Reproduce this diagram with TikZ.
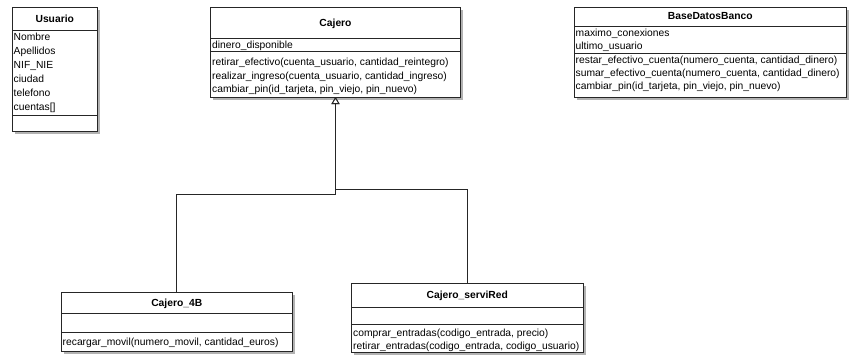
\documentclass[tikz,border=0pt]{standalone}
\usepackage{fontspec}
\setmainfont{Liberation Sans}
\usetikzlibrary{arrows.meta}

% class box: shadow plus framed rectangle, named #1, corners (#2,#3)-(#4,#5)
\newcommand{\classrect}[5]{%
  \fill[shadowgray] (#2+2.5,#3+2.5) rectangle (#4+2.5,#5+2.5);
  \node[classbox, minimum width=#4-#2, minimum height=#5-#3] (#1) at (#2,#3) {};
}

\begin{document}
\begin{tikzpicture}[x=1pt, y=-1pt,
  classbox/.style={draw=black!85, line width=0.8pt, fill=white, inner sep=0pt,
                   outer sep=0pt, anchor=north west},
  sep/.style={draw=black!85, line width=0.8pt},
  title/.style={font=\fontsize{10.3}{12}\selectfont\bfseries, inner sep=0pt, anchor=base},
  member/.style={font=\fontsize{10.3}{12}\selectfont, inner sep=0pt, anchor=base west},
  gen/.style={draw=black!85, line width=0.8pt, -{Triangle[open, length=7pt, width=8pt]}},
  shadowgray/.style={fill=black!30}
]
\useasboundingbox (0,0) rectangle (852,354);

% Usuario
\classrect{usuario}{12}{7}{97.5}{131}
\draw[sep] (12,30) -- (97.5,30);
\draw[sep] (12,115) -- (97.5,115);
\node[title] (usuarioT) at (54.75,22.2) {Usuario};
\node[member] (u1) at (13.5,40) {Nombre};
\node[member] (u2) at (13.5,54) {Apellidos};
\node[member] (u3) at (13.5,68) {NIF\_NIE};
\node[member] (u4) at (13.5,82) {ciudad};
\node[member] (u5) at (13.5,96) {telefono};
\node[member] (u6) at (13.5,110) {cuentas[]};

% Cajero
\classrect{cajero}{210.5}{7}{460.5}{97}
\draw[sep] (210.5,38) -- (460.5,38);
\draw[sep] (210.5,51) -- (460.5,51);
\node[title] (cajeroT) at (335.5,26) {Cajero};
\node[member] (c1) at (212,48) {dinero\_disponible};
\node[member] (c2) at (212,65.5) {retirar\_efectivo(cuenta\_usuario, cantidad\_reintegro)};
\node[member] (c3) at (212,79) {realizar\_ingreso(cuenta\_usuario, cantidad\_ingreso)};
\node[member] (c4) at (212,92.5) {cambiar\_pin(id\_tarjeta, pin\_viejo, pin\_nuevo)};

% BaseDatosBanco
\classrect{bd}{574}{7}{846.5}{97}
\draw[sep] (574,26) -- (846.5,26);
\draw[sep] (574,53) -- (846.5,53);
\node[title] (bdT) at (710.25,19.7) {BaseDatosBanco};
\node[member] (b1) at (575.5,36.8) {maximo\_conexiones};
\node[member] (b2) at (575.5,49.5) {ultimo\_usuario};
\node[member] (b3) at (575.5,63.5) {restar\_efectivo\_cuenta(numero\_cuenta, cantidad\_dinero)};
\node[member] (b4) at (575.5,76.5) {sumar\_efectivo\_cuenta(numero\_cuenta, cantidad\_dinero)};
\node[member] (b5) at (575.5,89) {cambiar\_pin(id\_tarjeta, pin\_viejo, pin\_nuevo)};

% Cajero_4B
\classrect{c4b}{61}{292}{292.5}{351}
\draw[sep] (61,313) -- (292.5,313);
\draw[sep] (61,332) -- (292.5,332);
\node[title] (c4bT) at (176.75,306) {Cajero\_4B};
\node[member] (k1) at (62.5,345) {recargar\_movil(numero\_movil, cantidad\_euros)};

% Cajero_serviRed
\classrect{csr}{351.5}{283}{583}{352}
\draw[sep] (351.5,307) -- (583,307);
\draw[sep] (351.5,324) -- (583,324);
\node[title] (csrT) at (467.25,298) {Cajero\_serviRed};
\node[member] (s1) at (353,336) {comprar\_entradas(codigo\_entrada, precio)};
\node[member] (s2) at (353,349.2) {retirar\_entradas(codigo\_entrada, codigo\_usuario)};

% generalisation connectors
\draw[gen] (c4b.north) -- ++(0,-98) -| (cajero.south);
\draw[gen] (csr.north) -- ++(0,-94) -| (cajero.south);
\end{tikzpicture}
\end{document}
